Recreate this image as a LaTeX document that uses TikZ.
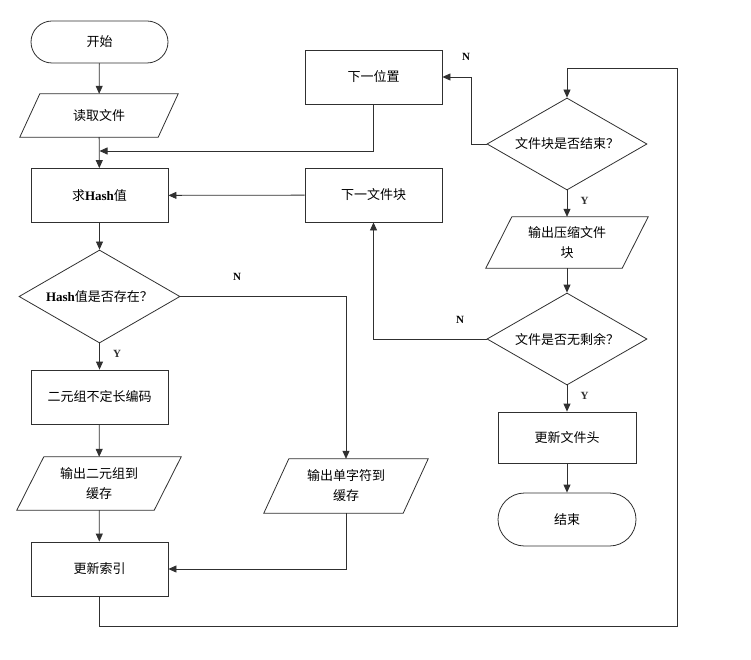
\documentclass[tikz,border=0pt]{standalone}
\usepackage{fontspec}
\usepackage{tikz}
\usetikzlibrary{shapes.geometric,shapes.misc,arrows.meta,positioning,calc}
\setmainfont{Liberation Serif}
\newfontfamily\cjk{Noto Sans CJK SC}
\definecolor{edge}{HTML}{303030}
\newcommand{\hashword}{{\rmfamily\bfseries Hash}}
% parallelogram outline round a named io node, #2 = slant
\newcommand{\iopath}[2]{\draw[edge, line width=0.8pt] ([xshift=#2pt]#1.north west) -- (#1.north east) -- ([xshift=-#2pt]#1.south east) -- (#1.south west) -- cycle;}

\begin{document}
\begin{tikzpicture}[
  x=1pt, y=-1pt,
  font=\cjk\fontsize{13}{16}\selectfont,
  procbox/.style={rectangle, draw=edge, line width=0.8pt, minimum width=137pt, minimum height=54pt, inner sep=0pt},
  termbox/.style={rounded rectangle, draw=edge, line width=0.8pt, minimum width=137pt, minimum height=42pt, inner sep=0pt},
  iobox/.style={rectangle, minimum width=164pt, minimum height=53pt, inner sep=0pt, align=center, font=\cjk\fontsize{13}{20}\selectfont},
  decide/.style={diamond, draw=edge, line width=0.8pt, minimum width=161pt, minimum height=93pt, aspect=1.73, inner sep=0pt},
  lbl/.style={font=\rmfamily\bfseries\fontsize{11}{13}\selectfont},
  arr/.style={-{Triangle[length=8pt,width=7pt]}, line width=0.8pt, edge}
]
  \useasboundingbox (0,0) rectangle (751,660);

  % left column
  \node[termbox] (start) at (99.5,42) {开始};
  \node[iobox, minimum width=158pt, minimum height=43pt] (read) at (99,115.5) {读取文件};
  \node[procbox] (hash) at (99.5,195.5) {求\hashword 值};
  \node[decide] (exist) at (99.5,296.5) {\hashword 值是否存在？};
  \node[procbox] (encode) at (99.5,397) {二元组不定长编码};
  \node[iobox] (outpair) at (99,483.5) {输出二元组到\\缓存};
  \node[procbox] (update) at (99.5,569) {更新索引};

  % middle column
  \node[procbox] (nextpos) at (373.5,77) {下一位置};
  \node[procbox] (nextblk) at (373.5,195) {下一文件块};
  \node[iobox, minimum height=54pt] (outchar) at (346,486) {输出单字符到\\缓存};

  % right column
  \node[decide, minimum width=160pt, minimum height=92pt] (blkend) at (567,144) {文件块是否结束？};
  \node[iobox, minimum width=162pt, minimum height=51pt] (outblk) at (567,242.5) {输出压缩文件\\块};
  \node[decide, minimum width=160pt, minimum height=92pt] (remain) at (567,339) {文件是否无剩余？};
  \node[procbox, minimum width=138pt, minimum height=51pt] (updhead) at (567,437.5) {更新文件头};
  \node[termbox, minimum width=138pt, minimum height=53pt] (stop) at (567,519.5) {结束};

  \iopath{read}{20}
  \iopath{outpair}{27}
  \iopath{outchar}{25}
  \iopath{outblk}{26}

  \coordinate (join) at (99.5,151);
  \coordinate (loopr) at (677,626);
  \coordinate (looptop) at (567,68);

  \draw[arr] (start) -- (read);
  \draw[arr] (read) -- (hash);
  \draw[arr] (nextpos.south) |- (join);
  \draw[arr] (hash) -- (exist);
  \draw[arr] (exist) -- node[lbl, right=10pt, pos=0.4] {Y} (encode);
  \draw[arr] (encode) -- (outpair);
  \draw[arr] (outpair) -- (update);
  \draw[arr] (exist.east) -| (outchar.north);
  \node[lbl] at (237,277) {N};
  \draw[arr] (outchar.south) |- (update.east);
  \draw[arr] (update.south) |- (loopr) |- (looptop) -- (blkend.north);

  \draw[arr] (blkend.west) -- ++(-15,0) |- (nextpos.east);
  \node[lbl] at (466,57) {N};
  \draw[arr] (blkend) -- node[lbl, right=10pt, pos=0.4] {Y} (outblk);
  \draw[arr] (outblk) -- (remain);
  \draw[arr] (remain.west) -| (nextblk.south);
  \node[lbl] at (460,320) {N};
  \draw[arr] (nextblk) -- (hash);
  \draw[arr] (remain) -- node[lbl, right=10pt, pos=0.4] {Y} (updhead);
  \draw[arr] (updhead) -- (stop);
\end{tikzpicture}
\end{document}
